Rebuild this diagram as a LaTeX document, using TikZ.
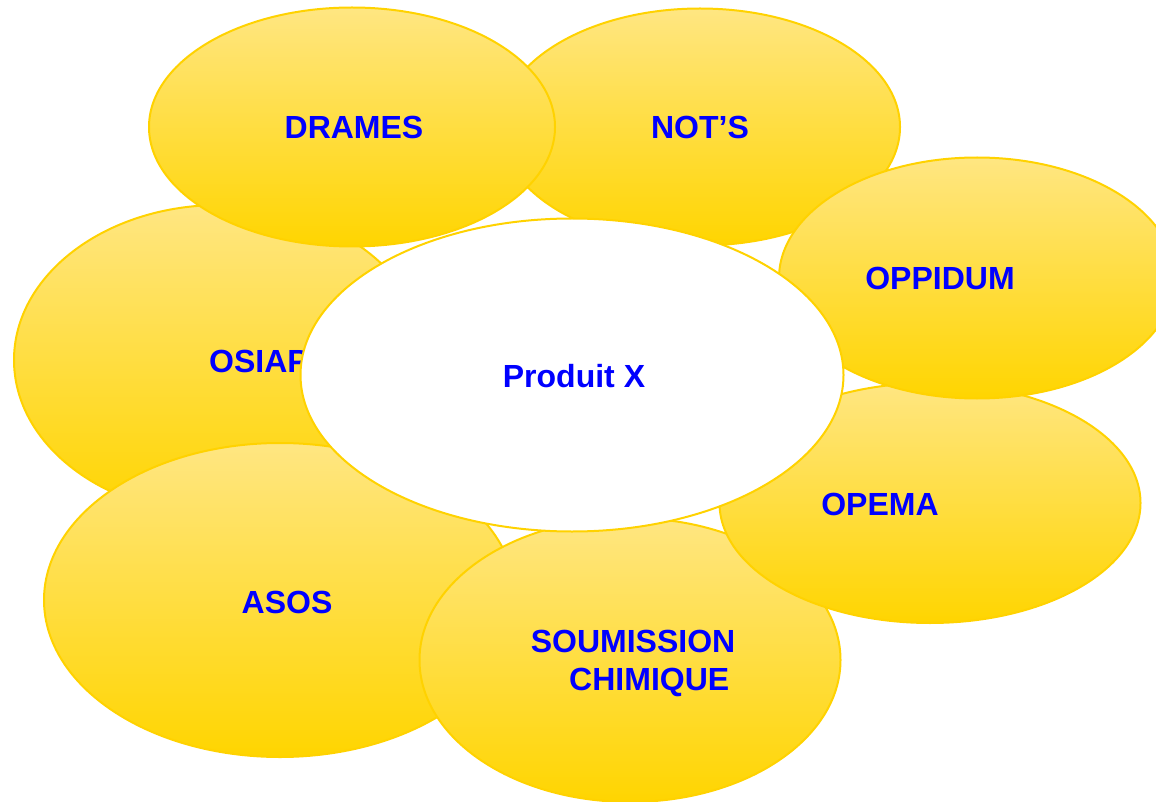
\documentclass[tikz,border=0pt]{standalone}
\usepackage{fontspec}
\setmainfont{Liberation Sans}
\usetikzlibrary{shapes.geometric}

\definecolor{petaltop}{RGB}{255,230,130}
\definecolor{petalbottom}{RGB}{255,213,0}
\definecolor{petalline}{RGB}{255,210,0}
\definecolor{labelblue}{RGB}{0,0,255}

\tikzset{
    petal/.style={ellipse, draw=petalline, line width=2pt, top color=petaltop, bottom color=petalbottom, inner sep=0pt},
    heart/.style={ellipse, draw=petalline, line width=2pt, fill=white, inner sep=0pt},
    tag/.style={text=labelblue, font=\fontsize{32}{38}\selectfont\bfseries, anchor=base, inner sep=0pt},
}

\begin{document}
\begin{tikzpicture}[x=1pt, y=-1pt]
    \clip (0,0) rectangle (1156,802);

    % petals, from the back to the front
    \node[petal, minimum width=412pt, minimum height=310pt] (osiap) at (220,360) {};
    \node[tag] (osiaptxt) at (259,372) {OSIAP};

    \node[petal, minimum width=400pt, minimum height=237pt] (nots) at (700,127) {};
    \node[tag] (notstxt) at (700,139) {NOT’S};

    \node[petal, minimum width=406pt, minimum height=239pt] (drames) at (352,127) {};
    \node[tag] (dramestxt) at (354,139) {DRAMES};

    \node[petal, minimum width=472pt, minimum height=314pt] (asos) at (280,600) {};
    \node[tag] (asostxt) at (287,613) {ASOS};

    \node[petal, minimum width=421pt, minimum height=284pt] (soumission) at (630,660) {};
    \node[tag, align=right, anchor=north] (soumissiontxt) at (633,630) {SOUMISSION\\CHIMIQUE\hspace*{6pt}};

    \node[petal, minimum width=421pt, minimum height=240pt] (opema) at (930,503) {};
    \node[tag] (opematxt) at (880,515) {OPEMA};

    \node[petal, minimum width=396pt, minimum height=241pt] (oppidum) at (977,278) {};
    \node[tag] (oppidumtxt) at (940,289) {OPPIDUM};

    % the centre sits on top of the ring
    \node[heart, minimum width=543pt, minimum height=313pt] (produit) at (572,375) {};
    \node[tag] (produittxt) at (574,387) {Produit X};
\end{tikzpicture}
\end{document}
